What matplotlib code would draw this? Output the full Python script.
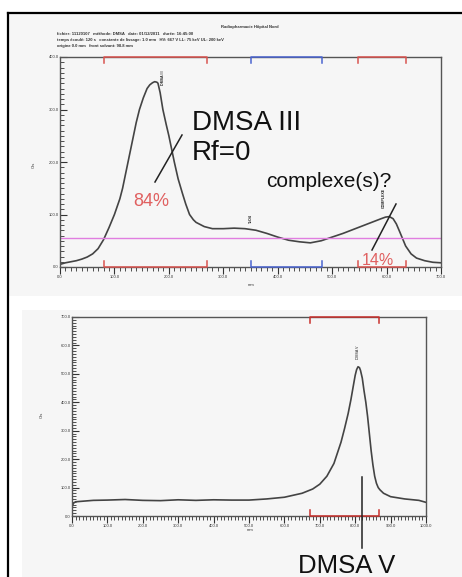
import matplotlib.pyplot as plt
from matplotlib.patches import Rectangle
from matplotlib.lines import Line2D
from matplotlib.ticker import MultipleLocator, FormatStrFormatter

plt.rcParams['font.family'] = ['Liberation Sans', 'DejaVu Sans']

# chromatogramme 1 (DMSA III)
top_mm = [0, 10, 20, 30, 40, 50, 60, 70, 80, 90, 100, 110, 115, 120, 125, 130,
          135, 140, 146, 153, 160, 165, 170, 174, 178, 180, 184, 189, 195, 200,
          205, 210, 217, 225, 231, 238, 245, 250, 265, 280, 300, 320, 340, 360,
          380, 400, 420, 440, 460, 480, 500, 520, 540, 560, 580, 590, 598, 605,
          612, 618, 625, 635, 645, 655, 670, 685, 700]
top_cts = [5, 8, 10, 12, 15, 19, 25, 35, 52, 75, 100, 130, 150, 175, 200, 225,
           250, 275, 300, 322, 340, 347, 351, 353, 352, 350, 332, 300, 272, 250,
           225, 200, 168, 140, 120, 100, 90, 85, 77, 73, 73, 74, 73, 70,
           64, 57, 51, 48, 46, 50, 57, 64, 72, 80, 88, 92, 95, 96,
           92, 82, 65, 40, 25, 17, 12, 9, 8]
top_regions = [(80, 270, '#d9534f'), (350, 482, '#4a64d0'), (548, 636, '#d9534f')]
top_peaks = [(189, 360, 'DMSA III'), (350, 92, 'TcO4'), (595, 132, 'COMPLEXE')]
seuil = 55

# chromatogramme 2 (DMSA V)
bot_mm = [0, 4, 10, 30, 60, 100, 150, 200, 250, 300, 350, 400, 450, 500, 550,
          600, 650, 680, 700, 720, 740, 760, 770, 780, 788, 795, 800, 804, 808,
          812, 815, 820, 825, 830, 835, 840, 845, 850, 855, 860, 865, 870, 880,
          900, 940, 980, 1000]
bot_cts = [30, 45, 50, 52, 55, 56, 58, 55, 54, 57, 55, 57, 56, 56, 60,
           66, 80, 95, 112, 140, 185, 260, 308, 360, 410, 460, 495, 515, 525,
           522, 512, 485, 440, 400, 350, 290, 230, 180, 140, 115, 100, 92, 80,
           68, 60, 55, 48]
bot_regions = [(672, 867, '#c9302c')]
bot_peaks = [(808, 575, 'DMSA V')]

W, H = 462, 577
fig = plt.figure(figsize=(W / 100, H / 100), dpi=100)
fig.patch.set_facecolor('white')


def px(x, y):
    return x / W, 1 - y / H


# fonds gris des deux captures
fig.patches.append(Rectangle(px(8, 296), (W - 8) / W, 283 / H, transform=fig.transFigure,
                             facecolor='#f6f6f6', edgecolor='none', zorder=-5))
fig.patches.append(Rectangle(px(22, 577), (W - 22) / W, 267 / H, transform=fig.transFigure,
                             facecolor='#f6f6f6', edgecolor='none', zorder=-5))
fig.lines.append(Line2D([8 / W, 8 / W], [0, 1 - 13 / H], transform=fig.transFigure,
                        color='black', lw=1.6))
fig.lines.append(Line2D([8 / W, 1], [1 - 13 / H, 1 - 13 / H], transform=fig.transFigure,
                        color='black', lw=1.6))


def style_axes(ax, xmax, ymax, xminor, yminor):
    ax.set_facecolor('#f6f6f6')
    ax.set_xlim(0, xmax)
    ax.set_ylim(0, ymax)
    ax.xaxis.set_major_locator(MultipleLocator(100))
    ax.xaxis.set_minor_locator(MultipleLocator(xminor))
    ax.yaxis.set_major_locator(MultipleLocator(100))
    ax.yaxis.set_minor_locator(MultipleLocator(yminor))
    ax.xaxis.set_major_formatter(FormatStrFormatter('%.1f'))
    ax.yaxis.set_major_formatter(FormatStrFormatter('%.1f'))
    ax.tick_params(axis='x', which='major', direction='out', length=5, width=0.8,
                   labelsize=3, pad=1, colors='#333333')
    ax.tick_params(axis='x', which='minor', direction='out', length=3, width=0.6,
                   colors='#333333')
    ax.tick_params(axis='y', which='major', direction='in', length=5, width=0.8,
                   labelsize=3, pad=1, colors='#333333')
    ax.tick_params(axis='y', which='minor', direction='in', length=3, width=0.6,
                   colors='#333333')
    for s in ax.spines.values():
        s.set_color('#555555')
        s.set_linewidth(1.0)


def brackets(ax, regions, h):
    tr = ax.get_xaxis_transform()
    for x0, x1, c in regions:
        ax.plot([x0, x0, x1, x1], [1 - h, 1, 1, 1 - h], color=c, lw=1.1,
                transform=tr, clip_on=False, zorder=5)
        ax.plot([x0, x0, x1, x1], [h, 0, 0, h], color=c, lw=1.1,
                transform=tr, clip_on=False, zorder=5)


# ---- haut ----
ax1 = fig.add_axes([60 / W, 1 - 267 / H, 381 / W, 210 / H])
style_axes(ax1, 700, 400, 10, 10)
ax1.plot(top_mm, top_cts, color='#444444', lw=1.2, solid_joinstyle='round')
ax1.axhline(seuil, color='#e07ee0', lw=1.0)
brackets(ax1, top_regions, 0.03)
for x, y, t in top_peaks:
    ax1.text(x, y, t, rotation=90, fontsize=2.6, ha='center', va='center',
             fontweight='bold', color='#222222')

# ---- bas ----
ax2 = fig.add_axes([72 / W, 1 - 516 / H, 354 / W, 199 / H])
style_axes(ax2, 1000, 700, 10, 10)
ax2.plot(bot_mm, bot_cts, color='#444444', lw=1.2, solid_joinstyle='round')
brackets(ax2, bot_regions, 0.03)
for x, y, t in bot_peaks:
    ax2.text(x, y, t, rotation=90, fontsize=2.6, ha='center', va='center',
             color='#222222')

# en-tete
fig.text(*px(250, 27), 'Radiopharmacie Hôpital Nord', fontsize=3, ha='center',
         va='center', fontweight='bold', color='#333333')
entete = ['fichier: 11120107   méthode: DMSA   date: 01/12/2011   durée: 16:45:00',
          'temps écoulé: 120 s   constante de lissage: 1.0 mm   HV: 667 V LL: 75 keV UL: 200 keV',
          'origine 0.0 mm   front solvant: 98.8 mm']
for i, l in enumerate(entete):
    fig.text(*px(57, 34 + 6 * i), l, fontsize=3, ha='left', va='center',
             fontweight='bold', color='#333333')

fig.text(*px(251, 285), 'mm', fontsize=3, ha='center', va='center', color='#333333')
fig.text(*px(34, 165), 'Cts', fontsize=3, ha='center', va='center', rotation=90,
         color='#333333')
fig.text(*px(250, 530), 'mm', fontsize=3, ha='center', va='center', color='#333333')
fig.text(*px(42, 415), 'Cts', fontsize=3, ha='center', va='center', rotation=90,
         color='#333333')

# annotations
fig.text(*px(192, 130), 'DMSA III', fontsize=20, ha='left', va='baseline', color='#111111')
fig.text(*px(192, 160), 'Rf=0', fontsize=20, ha='left', va='baseline', color='#111111')
fig.text(*px(133, 206), '84%', fontsize=13, ha='left', va='baseline', color='#e06060')
fig.text(*px(266, 187), 'complexe(s)?', fontsize=15, ha='left', va='baseline', color='#111111')
fig.text(*px(362, 265), '14%', fontsize=11.5, ha='left', va='baseline', color='#e06060')
fig.text(*px(298, 573), 'DMSA V', fontsize=18.5, ha='left', va='baseline', color='#111111')

for (xa, ya), (xb, yb) in [((155, 182), (182, 135)), ((372, 250), (396, 204)),
                           ((362, 477), (362, 548))]:
    fig.lines.append(Line2D([xa / W, xb / W], [1 - ya / H, 1 - yb / H],
                            transform=fig.transFigure, color='#222222', lw=1.1))

fig.savefig('out.png', dpi=100)
